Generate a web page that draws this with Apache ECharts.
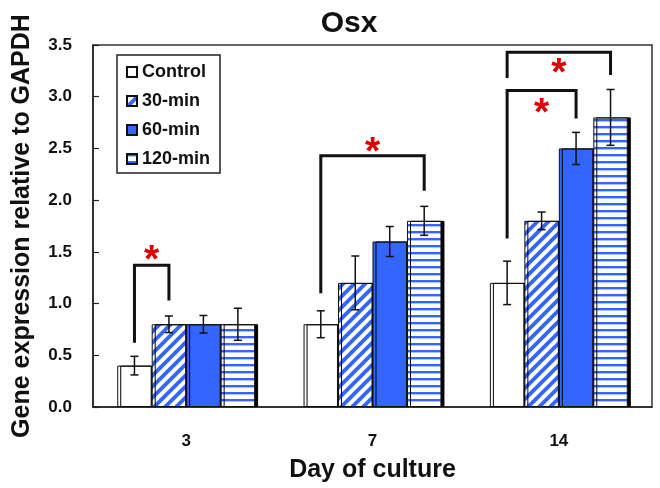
<!DOCTYPE html>
<html>
<head>
<meta charset="utf-8">
<script src="https://cdn.jsdelivr.net/npm/echarts@6/dist/echarts.min.js"></script>
<style>
  html, body { margin: 0; padding: 0; background: #fff; }
  #chart { width: 660px; height: 488px; }
</style>
</head>
<body>
<div id="chart"></div>
<script>
// Osx expression by day of culture and treatment time
const categories = ['3', '7', '14'];
const seriesNames = ['Control', '30-min', '60-min', '120-min'];

const control = [0.4, 0.8, 1.2];
const min30 = [0.8, 1.2, 1.8];
const min60 = [0.8, 1.6, 2.5];
const min120 = [0.8, 1.8, 2.8];

const controlErr = [0.09, 0.13, 0.21];
const min30Err = [0.08, 0.26, 0.085];
const min60Err = [0.085, 0.145, 0.155];
const min120Err = [0.155, 0.14, 0.27];

// significance brackets: [day index, from bar, to bar, left foot, top, right foot, star level]
const brackets = [
  [0, 0, 1, 0.62, 1.37, 1.03, 1.50],
  [1, 0, 3, 1.10, 2.43, 2.09, 2.54],
  [2, 0, 2, 1.63, 3.06, 2.79, 2.92],
  [2, 0, 3, 3.18, 3.43, 3.21, 3.30]
];

const yMin = 0, yMax = 3.5, yStep = 0.5;

const BLUE = '#3366FF';
const FONT = '"Liberation Sans", Arial, sans-serif';
const GAP = 0.26;

function diagPattern() {
  const s = 11;
  const c = document.createElement('canvas');
  c.width = s; c.height = s;
  const g = c.getContext('2d');
  g.fillStyle = '#fff';
  g.fillRect(0, 0, s, s);
  g.strokeStyle = BLUE;
  g.lineWidth = 3.8;
  g.beginPath();
  g.moveTo(-s, s); g.lineTo(s, -s);
  g.moveTo(0, s); g.lineTo(s, 0);
  g.moveTo(0, 2 * s); g.lineTo(2 * s, 0);
  g.stroke();
  return { image: c, repeat: 'repeat' };
}

function hPattern() {
  const c = document.createElement('canvas');
  c.width = 8; c.height = 7;
  const g = c.getContext('2d');
  g.fillStyle = '#fff';
  g.fillRect(0, 0, 8, 7);
  g.fillStyle = BLUE;
  g.fillRect(0, 0, 8, 2.4);
  return { image: c, repeat: 'repeat' };
}

const fills = ['#ffffff', diagPattern(), BLUE, hPattern()];
const values = [control, min30, min60, min120];
const errs = [controlErr, min30Err, min60Err, min120Err];

function barCenterX(api, cat, k) {
  const c = api.coord([cat, 0]);
  const band = api.size([1, 0])[0];
  const w = band * (1 - GAP) / seriesNames.length;
  return c[0] + (k - (seriesNames.length - 1) / 2) * w;
}

const barSeries = seriesNames.map((name, k) => ({
  name: name,
  type: 'bar',
  data: values[k],
  barGap: '0%',
  barCategoryGap: (GAP * 100) + '%',
  itemStyle: {
    color: fills[k],
    borderColor: '#111',
    borderWidth: 1,
    shadowColor: '#000',
    shadowOffsetX: 3,
    shadowOffsetY: 0,
    shadowBlur: 0
  },
  emphasis: { disabled: true },
  animation: false
}));

const errData = [];
values.forEach((vals, k) => vals.forEach((v, i) => errData.push([i, k, v, errs[k][i]])));

const errorSeries = {
  type: 'custom',
  name: 'err',
  data: errData,
  encode: { x: 0, y: 2 },
  z: 5,
  silent: true,
  renderItem: function (params, api) {
    const cat = api.value(0), k = api.value(1), v = api.value(2), e = api.value(3);
    const x = barCenterX(api, cat, k);
    const yt = api.coord([cat, v + e])[1];
    const yb = api.coord([cat, v - e])[1];
    const cap = 4;
    const st = { stroke: '#111', lineWidth: 1.5 };
    return {
      type: 'group',
      children: [
        { type: 'line', shape: { x1: x, y1: yt, x2: x, y2: yb }, style: st },
        { type: 'line', shape: { x1: x - cap, y1: yt, x2: x + cap, y2: yt }, style: st },
        { type: 'line', shape: { x1: x - cap, y1: yb, x2: x + cap, y2: yb }, style: st }
      ]
    };
  }
};

const bracketSeries = {
  type: 'custom',
  name: 'sig',
  data: brackets,
  encode: { x: 0, y: 4 },
  z: 6,
  silent: true,
  renderItem: function (params, api) {
    const cat = api.value(0);
    const xa = barCenterX(api, cat, api.value(1));
    const xb = barCenterX(api, cat, api.value(2));
    const yl = api.coord([cat, api.value(3)])[1];
    const yt = api.coord([cat, api.value(4)])[1];
    const yr = api.coord([cat, api.value(5)])[1];
    const ys = api.coord([cat, api.value(6)])[1];
    const fs = 39;
    return {
      type: 'group',
      children: [
        {
          type: 'polyline',
          shape: { points: [[xa, yl], [xa, yt], [xb, yt], [xb, yr]] },
          style: { stroke: '#111', lineWidth: 3, fill: null, lineJoin: 'miter' }
        },
        {
          type: 'text',
          x: (xa + xb) / 2,
          y: ys + fs * 0.23,
          style: {
            text: '*',
            fill: '#DD0000',
            font: 'bold ' + fs + 'px ' + FONT,
            align: 'center',
            verticalAlign: 'middle'
          }
        }
      ]
    };
  }
};

const chart = echarts.init(document.getElementById('chart'), null, { renderer: 'canvas' });
chart.setOption({
  animation: false,
  backgroundColor: '#fff',
  textStyle: { fontFamily: FONT },
  title: {
    text: 'Osx',
    left: 344,
    top: 4,
    textAlign: 'center',
    textStyle: { fontFamily: FONT, fontSize: 30, fontWeight: 'bold', color: '#111' }
  },
  legend: {
    data: seriesNames,
    orient: 'vertical',
    left: 117,
    top: 55,
    padding: [8, 10, 5, 9],
    itemGap: 11,
    itemWidth: 10,
    itemHeight: 10,
    icon: 'rect',
    backgroundColor: '#fff',
    borderColor: '#222',
    borderWidth: 1.5,
    textStyle: { fontFamily: FONT, fontSize: 18, fontWeight: 'bold', color: '#111' },
    selectedMode: false
  },
  grid: {
    left: 93, right: 8, top: 45, bottom: 81,
    show: true,
    borderColor: '#333',
    borderWidth: 1.5,
    backgroundColor: 'transparent'
  },
  xAxis: {
    type: 'category',
    data: categories,
    name: 'Day of culture',
    nameLocation: 'middle',
    nameGap: 51,
    nameTextStyle: { fontFamily: FONT, fontSize: 25, fontWeight: 'bold', color: '#111' },
    axisLine: { lineStyle: { color: '#222', width: 1.5 } },
    axisTick: { show: false },
    axisLabel: { margin: 26, fontFamily: FONT, fontSize: 17, fontWeight: 'bold', color: '#111' }
  },
  yAxis: {
    type: 'value',
    min: yMin,
    max: yMax,
    interval: yStep,
    name: 'Gene expression relative to GAPDH',
    nameLocation: 'middle',
    nameGap: 58,
    nameTextStyle: { fontFamily: FONT, fontSize: 25, fontWeight: 'bold', color: '#111' },
    axisLine: { show: true, lineStyle: { color: '#222', width: 1.5 } },
    axisTick: { show: true, inside: true, length: 6, lineStyle: { color: '#222', width: 1.2 } },
    splitLine: { show: false },
    axisLabel: {
      margin: 21,
      fontFamily: FONT, fontSize: 17, fontWeight: 'bold', color: '#111',
      formatter: v => v.toFixed(1)
    }
  },
  series: barSeries.concat([errorSeries, bracketSeries])
});
</script>
</body>
</html>
